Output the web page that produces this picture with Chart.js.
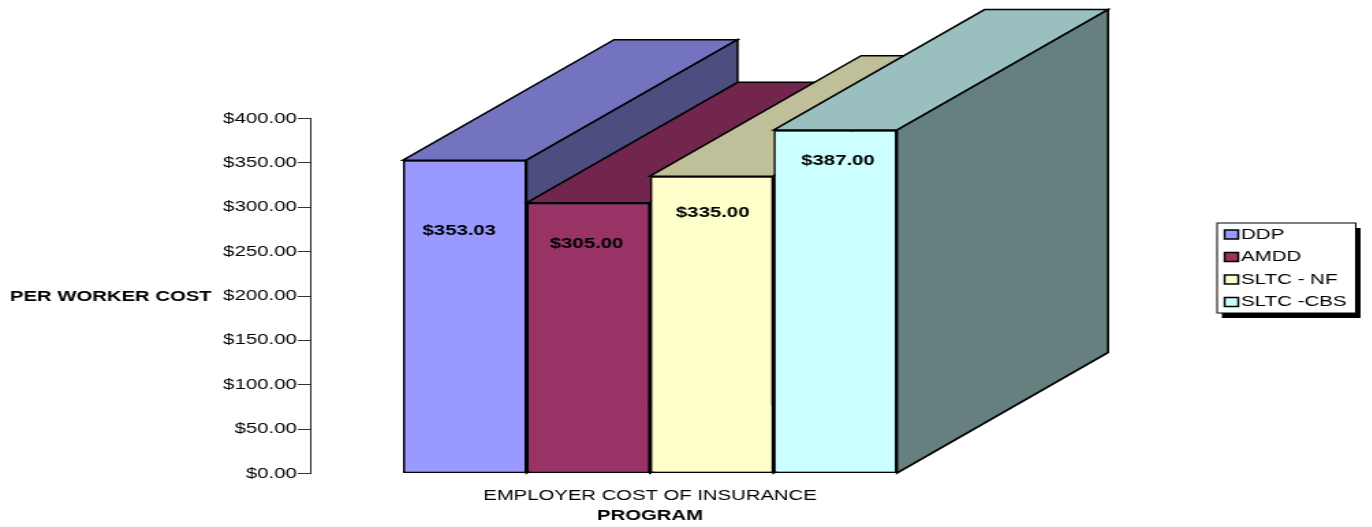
<!DOCTYPE html>
<html>
<head>
<meta charset="utf-8">
<title>Employer cost of insurance</title>
<script src="https://cdn.jsdelivr.net/npm/chart.js@4"></script>
<style>
  html, body { margin: 0; padding: 0; background: #fff; overflow: hidden; }
  /* the reference is stretched sideways, text included */
  #chart { position: absolute; left: 0; top: 0; transform: scaleX(1.366); transform-origin: 0 0; }
</style>
</head>
<body>
<canvas id="chart" width="1004" height="527"></canvas>
<script>
const categories = ["EMPLOYER COST OF INSURANCE"];
const seriesNames = ["DDP", "AMDD", "SLTC - NF", "SLTC -CBS"];
const seriesValues = [353.03, 305.00, 335.00, 387.00];
const frontColors = ["#9999FF", "#993366", "#FFFFCC", "#CCFFFF"];
const topColors = ["#7373BF", "#73264D", "#BFBF99", "#99BFBF"];
const sideColors = ["#4D4D80", "#4D1A33", "#808066", "#668080"];
const yTitle = "PER WORKER COST";
const xTitle = "PROGRAM";

const FONT = "Liberation Sans, Arial, sans-serif";
const money = (v) => "$" + v.toFixed(2);

// depth of the fake 3D, in canvas pixels
const DEPTH_X = 154.5;
const DEPTH_Y = -120.5;
// the value labels are not centred in the reference
const labelOffsets = [[-4, 71], [-1.2, 41], [0.7, 37], [2, 31]];

function face(ctx, pts, fill) {
  ctx.beginPath();
  pts.forEach((p, i) => i ? ctx.lineTo(p[0], p[1]) : ctx.moveTo(p[0], p[1]));
  ctx.closePath();
  ctx.fillStyle = fill;
  ctx.fill();
  ctx.stroke();
}

const depthBars = {
  id: "depthBars",
  afterDatasetsDraw(chart) {
    const ctx = chart.ctx;
    ctx.save();
    ctx.strokeStyle = "#000";
    ctx.lineWidth = 1.6;
    ctx.lineJoin = "miter";
    // left to right, each bar hides the faces of the one before
    chart.data.datasets.forEach((ds, i) => {
      const bar = chart.getDatasetMeta(i).data[0];
      const l = bar.x - bar.width / 2, r = bar.x + bar.width / 2, t = bar.y, b = bar.base;
      face(ctx, [[l, t], [l + DEPTH_X, t + DEPTH_Y], [r + DEPTH_X, t + DEPTH_Y], [r, t]], topColors[i]);
      face(ctx, [[r, t], [r + DEPTH_X, t + DEPTH_Y], [r + DEPTH_X, b + DEPTH_Y], [r, b]], sideColors[i]);
      bar.draw(ctx);
    });
    ctx.fillStyle = "#000";
    ctx.font = "bold 14.9px " + FONT;
    ctx.textAlign = "center";
    ctx.textBaseline = "middle";
    chart.data.datasets.forEach((ds, i) => {
      const bar = chart.getDatasetMeta(i).data[0];
      ctx.fillText(money(ds.data[0]), bar.x + labelOffsets[i][0], bar.y + labelOffsets[i][1]);
    });
    ctx.restore();
  }
};

const sideText = {
  id: "sideText",
  afterDraw(chart) {
    const ctx = chart.ctx;
    ctx.save();
    ctx.fillStyle = "#000";
    ctx.font = "bold 14.85px " + FONT;
    ctx.textBaseline = "middle";
    ctx.textAlign = "left";
    ctx.fillText(yTitle, 7.3, chart.scales.y.getPixelForValue(200) + 0.5);

    // legend box with its hard shadow
    const x = 891, y = 223, w = 101.5, h = 90;
    ctx.fillStyle = "#000";
    ctx.fillRect(x + 3.5, y + 5, w, h);
    ctx.fillStyle = "#fff";
    ctx.strokeStyle = "#000";
    ctx.lineWidth = 1;
    ctx.fillRect(x, y, w, h);
    ctx.strokeRect(x, y, w, h);
    chart.data.datasets.forEach((ds, i) => {
      const rowY = y + 11.5 + i * 22.5;
      ctx.fillStyle = ds.backgroundColor;
      ctx.lineWidth = 1.5;
      ctx.fillRect(x + 5.5, rowY - 4.5, 10, 9);
      ctx.strokeRect(x + 5.5, rowY - 4.5, 10, 9);
      ctx.fillStyle = "#000";
      ctx.font = "15px " + FONT;
      ctx.fillText(ds.label, x + 17.5, rowY);
    });
    ctx.restore();
  }
};

new Chart(document.getElementById("chart"), {
  type: "bar",
  data: {
    labels: categories,
    datasets: seriesNames.map((name, i) => ({
      label: name,
      data: [seriesValues[i]],
      backgroundColor: frontColors[i],
      borderColor: "#000",
      borderWidth: 1.6,
      borderSkipped: false
    }))
  },
  options: {
    responsive: false,
    animation: false,
    devicePixelRatio: 1,
    layout: { padding: { top: 118.5, right: 279.3, left: 0, bottom: 0 } },
    datasets: { bar: { categoryPercentage: 0.7266, barPercentage: 1 } },
    plugins: { legend: { display: false }, tooltip: { enabled: false } },
    scales: {
      x: {
        grid: { display: false },
        border: { display: false },
        ticks: { color: "#000", font: { family: FONT, size: 14.85 }, padding: 5, maxRotation: 0 },
        title: { display: true, text: xTitle, color: "#000", font: { family: FONT, size: 14.85, weight: "bold" }, padding: { top: 0, bottom: 2 } },
        afterFit: (s) => { s.height = 53.5; }
      },
      y: {
        min: 0,
        max: 400,
        grid: { drawOnChartArea: false, tickLength: 9, tickColor: "#333", tickWidth: 1 },
        border: { color: "#222", width: 1 },
        ticks: { stepSize: 50, color: "#000", font: { family: FONT, size: 14.9 }, padding: 0.8, callback: (v) => money(v) },
        afterFit: (s) => { s.width = 227; }
      }
    }
  },
  plugins: [depthBars, sideText]
});
</script>
</body>
</html>
